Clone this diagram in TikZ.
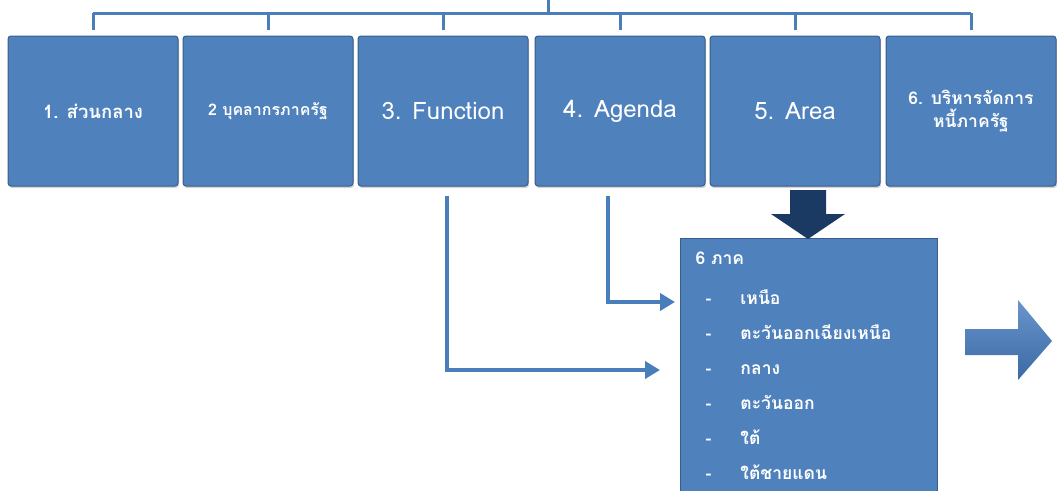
\documentclass[tikz,border=0pt]{standalone}
\usepackage{fontspec}
\setmainfont{Loma}[Script=Thai]
\usetikzlibrary{arrows.meta,shadows}
\definecolor{boxblue}{HTML}{4F81BD}
\definecolor{boxedge}{HTML}{385D8A}
\definecolor{linkblue}{HTML}{4A7EBB}
\definecolor{navy}{HTML}{1B3A63}
\definecolor{arrowtop}{HTML}{6A95CC}
\definecolor{arrowbot}{HTML}{3A69A4}
\begin{document}
\begin{tikzpicture}[x=1pt,y=-1pt,
	unit/.style={draw=boxedge, line width=1pt, fill=boxblue, rounded corners=3pt,
		minimum width=170pt, minimum height=150pt, text=white, align=center,
		drop shadow={opacity=0.35, shadow xshift=1pt, shadow yshift=-2pt},
		font=\fontsize{16}{22}\selectfont\bfseries},
	region/.style={draw=boxedge, line width=1pt, fill=boxblue, text=white,
		text width=227pt, align=left, inner xsep=15pt, inner ysep=1pt,
		font=\fontsize{17.5}{18}\selectfont\bfseries},
	bracket/.style={draw=linkblue, line width=3pt},
	link/.style={draw=linkblue, line width=4pt, -{Triangle[length=15pt,width=17pt]}}]
	\useasboundingbox (0,0) rectangle (1057,490);
	\clip (0,0) rectangle (1057,490);
	% top row
	\node[unit, font=\fontsize{18.5}{22}\selectfont\bfseries] (b1) at (93,111) {1. ส่วนกลาง};
	\node[unit] (b2) at (268,111) {2 บุคลากรภาครัฐ};
	\node[unit, font=\fontsize{24}{28}\selectfont] (b3) at (443,111) {3. Function};
	\node[unit, font=\fontsize{24}{28}\selectfont] (b4) at (620,111) {4. Agenda};
	\node[unit, font=\fontsize{24}{28}\selectfont] (b5) at (795,111) {5. Area};
	\node[unit, font=\fontsize{17.5}{23}\selectfont\bfseries] (b6) at (971,111) {6. บริหารจัดการ\\หนี้ภาครัฐ};
	% bracket over the row
	\coordinate (root) at (548,0);
	\coordinate (bar) at (548,13);
	\draw[bracket] (root) -- (bar);
	\draw[bracket] (b1.north |- bar) -- (b6.north |- bar);
	\foreach \i in {1,...,6}
		\draw[bracket] (b\i.north |- bar) -- ([yshift=6pt]b\i.north);
	% regions box
	\node[region, anchor=north west] (reg) at (680,238) {%
		\def\arraystretch{1.95}%
		\begin{tabular}{@{}l@{}l@{}}
			\multicolumn{2}{@{}l}{6 ภาค}\\[5pt]
			\makebox[45pt][l]{\hspace{10pt}-} & เหนือ\\
			\makebox[45pt][l]{\hspace{10pt}-} & ตะวันออกเฉียงเหนือ\\
			\makebox[45pt][l]{\hspace{10pt}-} & กลาง\\
			\makebox[45pt][l]{\hspace{10pt}-} & ตะวันออก\\
			\makebox[45pt][l]{\hspace{10pt}-} & ใต้\\
			\makebox[45pt][l]{\hspace{10pt}-} & ใต้ชายแดน
		\end{tabular}};
	% arrows into the box
	\coordinate (fin) at (660,370);
	\coordinate (ain) at (675,302);
	\draw[link] ([xshift=4pt,yshift=-9pt]b3.south) |- (fin);
	\draw[link] ([xshift=-12pt,yshift=-9pt]b4.south) |- (ain);
	% block arrows
	\fill[navy] (790,190) -- (826,190) -- (826,214) -- (845,214) -- (808,239)
		-- (771,214) -- (790,214) -- cycle;
	\shade[top color=arrowtop, bottom color=arrowbot] (965,329) -- (1018,329)
		-- (1018,300) -- (1052,341) -- (1018,380) -- (1018,355) -- (965,355) -- cycle;
\end{tikzpicture}
\end{document}
